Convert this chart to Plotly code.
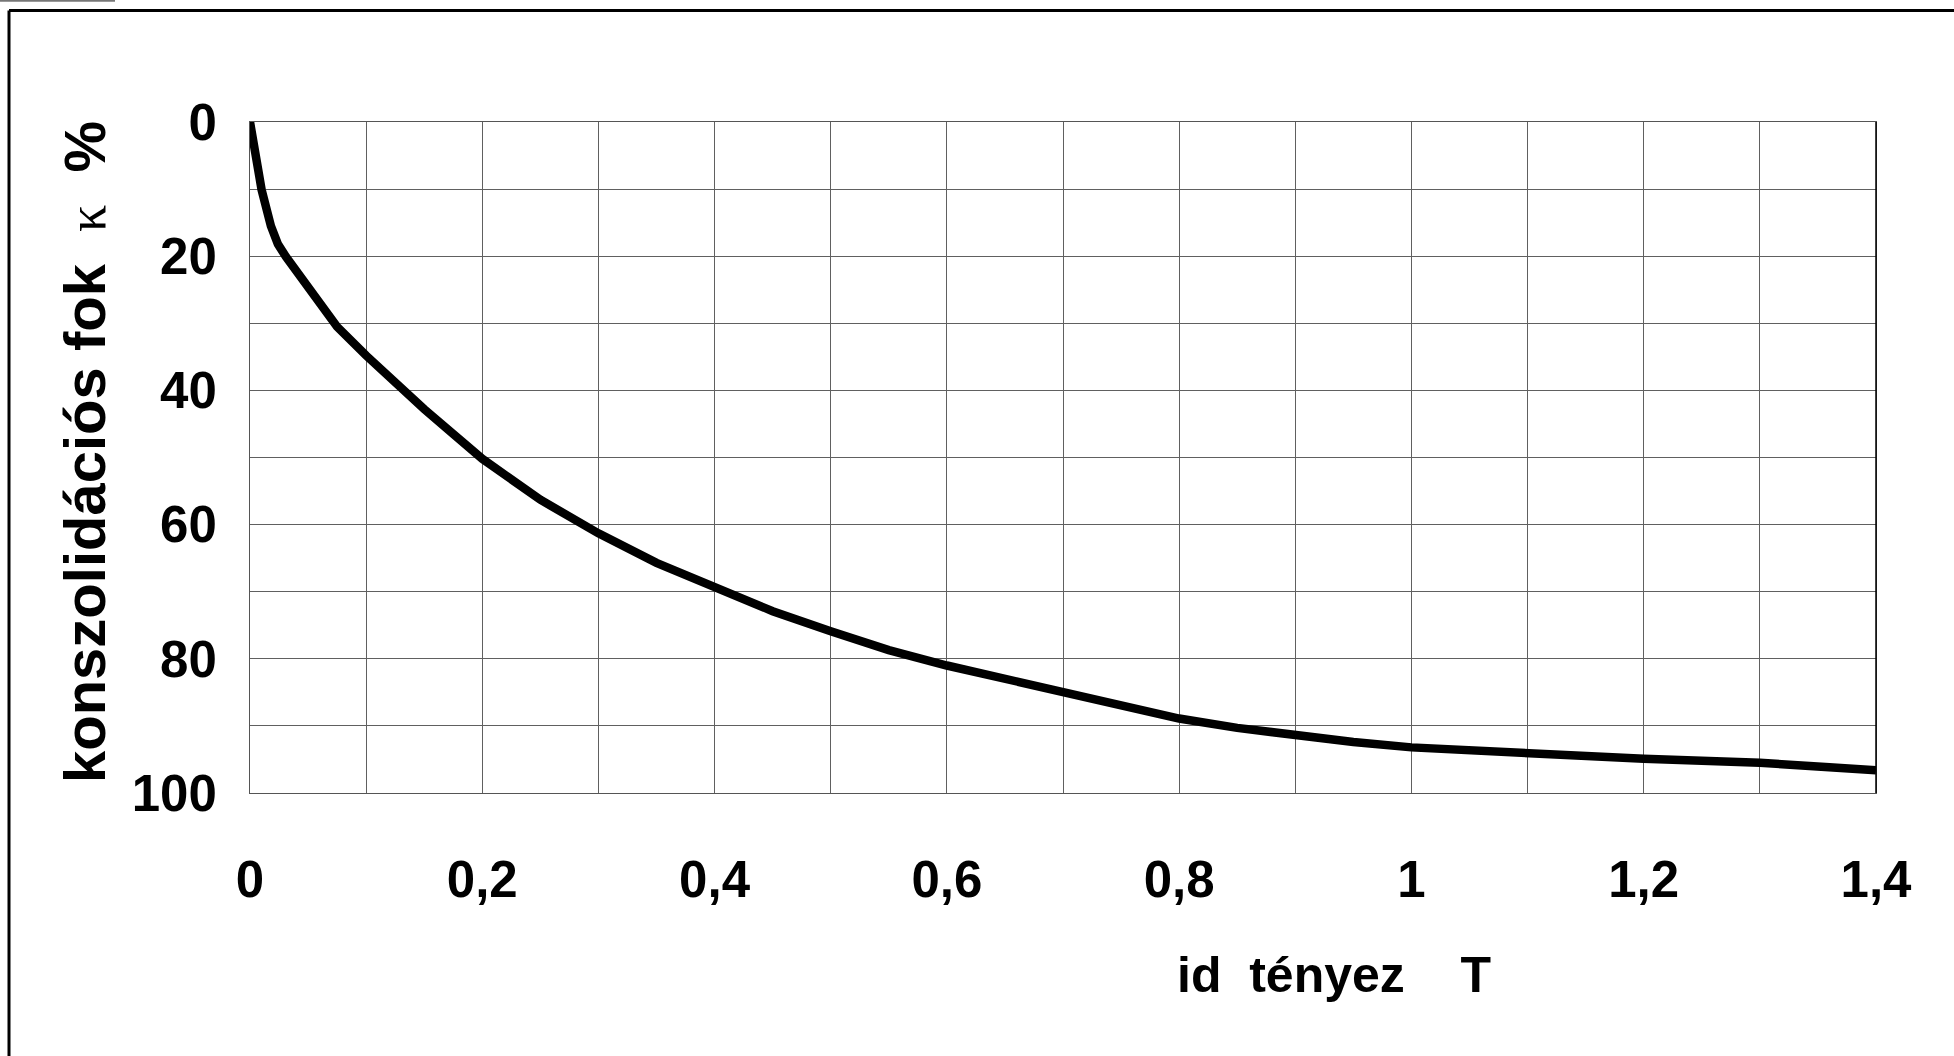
import plotly.graph_objects as go

# ---- data ----
T_values = [0.0, 0.005, 0.010, 0.018, 0.024, 0.031, 0.045, 0.057, 0.075, 0.10, 0.125,
            0.15, 0.175, 0.20, 0.25, 0.30, 0.35, 0.40, 0.45, 0.50, 0.55, 0.60,
            0.65, 0.70, 0.75, 0.80, 0.85, 0.90, 0.95, 1.00, 1.05, 1.10, 1.20,
            1.30, 1.40]
U_values = [0.0, 6.0, 10.1, 15.5, 18.2, 20.1, 23.5, 26.5, 30.5, 34.8, 39.0,
            42.8, 46.5, 50.2, 56.3, 61.3, 65.7, 69.4, 72.9, 75.9, 78.7, 81.0,
            83.0, 85.0, 87.0, 88.9, 90.3, 91.5, 92.4, 93.2, 93.7, 94.2, 94.9,
            95.5, 96.6]

x_tickvals = [0.0, 0.1, 0.2, 0.3, 0.4, 0.5, 0.6, 0.7, 0.8, 0.9, 1.0, 1.1, 1.2, 1.3, 1.4]
x_ticktext = ["0", "", "0,2", "", "0,4", "", "0,6", "", "0,8", "", "1", "", "1,2", "", "1,4"]
y_tickvals = [0, 10, 20, 30, 40, 50, 60, 70, 80, 90, 100]
y_ticktext = ["0", "", "20", "", "40", "", "60", "", "80", "", "100"]

x_title = "id\u00a0\u00a0tényez\u00a0\u00a0\u00a0\u00a0T"
y_title_main = "konszolidációs fok\u00a0\u00a0"
y_title_kappa = "κ"
y_title_end = "\u00a0\u00a0%"

# ---- layout geometry (pixels) ----
W, H = 1954, 1056
L, R, TOP, BOT = 250, 1876, 122, 793
pw, ph = R - L, BOT - TOP


def px(xp):
    return (xp - L) / pw


def py(yp):
    return (BOT - yp) / ph


FONT = "Liberation Sans, Arial, sans-serif"

fig = go.Figure()
fig.add_trace(go.Scatter(
    x=T_values, y=U_values, mode="lines",
    line=dict(color="black", width=8.5, shape="linear"),
    hoverinfo="skip", showlegend=False,
))

fig.update_layout(
    width=W, height=H,
    margin=dict(l=L, r=W - R, t=TOP, b=H - BOT, pad=0),
    paper_bgcolor="white", plot_bgcolor="white",
    showlegend=False,
    font=dict(family=FONT, color="black"),
)

fig.update_xaxes(
    range=[0, 1.4], tickvals=x_tickvals, ticktext=x_ticktext,
    showgrid=True, gridcolor="#606060", gridwidth=1,
    showline=True, linecolor="#555555", linewidth=1, mirror=True,
    zeroline=False, ticks="", ticklabelstandoff=42,
    tickfont=dict(family=FONT, size=51, color="black", weight="bold"),
)
fig.update_yaxes(
    range=[100, 0], tickvals=y_tickvals, ticktext=y_ticktext,
    showgrid=True, gridcolor="#606060", gridwidth=1,
    showline=True, linecolor="#555555", linewidth=1, mirror=True,
    zeroline=False, ticks="", ticklabelstandoff=22,
    tickfont=dict(family=FONT, size=51, color="black", weight="bold"),
)

# axis titles as annotations
fig.add_annotation(
    xref="paper", yref="paper", x=px(1334), y=py(975),
    xanchor="center", yanchor="middle", showarrow=False,
    text=f"<b>{x_title}</b>",
    font=dict(family=FONT, size=50, color="black"),
)
fig.add_annotation(
    xref="paper", yref="paper", x=px(84), y=py(452),
    xanchor="center", yanchor="middle", showarrow=False, textangle=-90,
    text=(f"<b>{y_title_main}</b>"
          f"<span style='font-family:Liberation Serif, Times New Roman, serif;font-weight:normal;font-size:54px'>{y_title_kappa}</span>"
          f"<b>{y_title_end}</b>"),
    font=dict(family=FONT, size=58, color="black"),
)

# outer frame and right plot border
shapes = [
    dict(type="line", xref="paper", yref="paper", x0=px(9), x1=px(W + 10),
         y0=py(10.5), y1=py(10.5), line=dict(color="black", width=3)),
    dict(type="line", xref="paper", yref="paper", x0=px(9), x1=px(9),
         y0=py(10.5), y1=py(H + 10), line=dict(color="black", width=3)),
    dict(type="line", xref="paper", yref="paper", x0=px(0), x1=px(115),
         y0=py(0.8), y1=py(0.8), line=dict(color="#777777", width=2)),
    dict(type="line", xref="paper", yref="paper", x0=1, x1=1, y0=0, y1=1,
         line=dict(color="black", width=1.5)),
]
fig.update_layout(shapes=shapes)

fig.write_html("out.html")
